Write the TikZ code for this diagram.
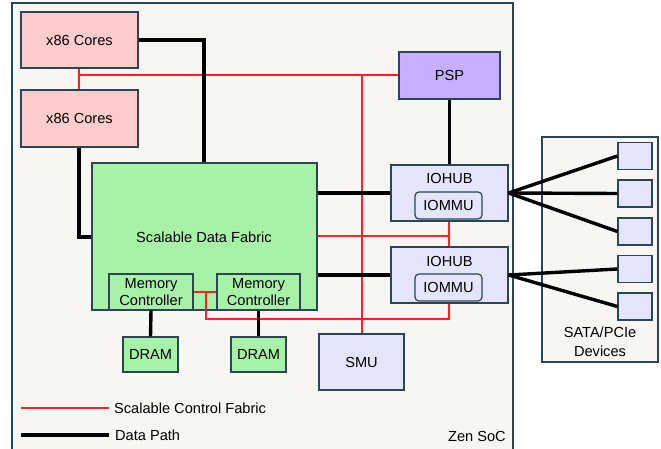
\documentclass[tikz,border=0pt]{standalone}
\usepackage{fontspec}
\setmainfont{Liberation Sans}
\definecolor{bord}{HTML}{2B4555}
\definecolor{soc}{HTML}{F7F6F2}
\definecolor{pinkc}{HTML}{FFCCCC}
\definecolor{greenc}{HTML}{A8F2A8}
\definecolor{purc}{HTML}{C8AEFF}
\definecolor{lavc}{HTML}{E4E4FA}
\definecolor{redl}{HTML}{FF2020}
\begin{document}
\begin{tikzpicture}[x=1pt,y=-1pt,
  box/.style={draw=bord,line width=1.2pt,inner sep=0pt,font=\fontsize{14.6}{17}\selectfont},
  dpath/.style={line width=3.4pt,black},
  cpath/.style={line width=1.2pt,redl},
  lbl/.style={font=\fontsize{14.6}{17}\selectfont,inner sep=0pt}]
\useasboundingbox (0,0) rectangle (661,449);
% SoC box
\path[draw=bord,fill=soc,line width=1.2pt] (12,3) rectangle (513,452);
\node[box,fill=soc,minimum width=116pt,minimum height=225pt] (dev) at (600,249.5) {};
% nodes
\node[box,fill=pinkc,minimum width=117pt,minimum height=56pt] (c1) at (79.5,40) {x86 Cores};
\node[box,fill=pinkc,minimum width=117pt,minimum height=57pt] (c2) at (79.5,118.5) {x86 Cores};
\node[box,fill=purc,minimum width=101pt,minimum height=47pt] (psp) at (449.5,75.5) {PSP};
\node[box,fill=greenc,minimum width=225pt,minimum height=147pt] (sdf) at (204.5,236.5) {};
\node[lbl] (sdft) at (204,237) {Scalable Data Fabric};
\node[box,fill=greenc,minimum width=84pt,minimum height=36pt,align=center,font=\fontsize{14.6}{17.5}\selectfont] (mc1) at (151,292) {Memory\\Controller};
\node[box,fill=greenc,minimum width=83pt,minimum height=36pt,align=center,font=\fontsize{14.6}{17.5}\selectfont] (mc2) at (258.5,292) {Memory\\Controller};
\node[box,fill=greenc,minimum width=55pt,minimum height=35pt] (d1) at (150.5,354.5) {DRAM};
\node[box,fill=greenc,minimum width=55pt,minimum height=35pt] (d2) at (258.5,354.5) {DRAM};
\node[box,fill=lavc,minimum width=85pt,minimum height=56pt] (smu) at (361.5,362) {SMU};
\node[box,fill=lavc,minimum width=117pt,minimum height=56pt] (io1) at (449.5,193) {};
\node[lbl] (io1t) at (449.5,178) {IOHUB};
\node[box,fill=lavc,rounded corners=4pt,minimum width=67pt,minimum height=27pt] (mmu1) at (448.5,205.5) {IOMMU};
\node[box,fill=lavc,minimum width=117pt,minimum height=56pt] (io2) at (449.5,275) {};
\node[lbl] (io2t) at (449.5,261) {IOHUB};
\node[box,fill=lavc,rounded corners=4pt,minimum width=67pt,minimum height=27pt] (mmu2) at (448.5,287.5) {IOMMU};
% devices
\foreach \i/\y in {1/156,2/193.5,3/231.5,4/269,5/306.5}{
  \node[box,fill=lavc,minimum width=34pt,minimum height=27pt] (b\i) at (635,\y) {};
}
\node[lbl,align=center,font=\fontsize{14.6}{19}\selectfont] (devt) at (600,341.5) {SATA/PCIe\\Devices};
% control fabric (red)
\coordinate (r1) at (79,75);
\coordinate (r2) at (362,75);
\draw[cpath] (c1.south -| r1) -- (c2.north -| r1);
\draw[cpath] (r1) -- (psp.west |- r1);
\draw[cpath] (r2) -- (smu.north -| r2);
\coordinate (r3) at (449,236);
\draw[cpath] (sdf.east |- r3) -- (r3);
\draw[cpath] (io1.south -| r3) -- (io2.north -| r3);
\coordinate (r4) at (449,319);
\coordinate (r5) at (206,319);
\coordinate (r6) at (206,292);
\draw[cpath] (io2.south -| r4) -- (r4) -- (r5) -- (r6);
\draw[cpath] (mc1.east |- r6) -- (mc2.west |- r6);
% data path (black)
\coordinate (k1) at (204,40);
\draw[dpath] (c1.east) -- (k1) -- (sdf.north -| k1);
\coordinate (k2) at (79,237);
\draw[dpath] (c2.south -| k2) -- (k2) -- (sdf.west |- k2);
\draw[dpath] (sdf.east |- io1.west) -- (io1.west);
\draw[dpath] (sdf.east |- io2.west) -- (io2.west);
\draw[dpath] (psp.south) -- (io1.north);
\draw[dpath] (mc1.south) -- (d1.north);
\draw[dpath] (mc2.south) -- (d2.north);
\foreach \i in {1,2,3}{\draw[dpath] (io1.east) -- (b\i.west);}
\foreach \i in {4,5}{\draw[dpath] (io2.east) -- (b\i.west);}
% legend
\coordinate (l1a) at (21,408);
\coordinate (l1b) at (109,408);
\draw[cpath] (l1a) -- (l1b);
\node[lbl,anchor=west] (lt1) at (114,408) {Scalable Control Fabric};
\coordinate (l2a) at (21,435);
\coordinate (l2b) at (109,435);
\draw[dpath] (l2a) -- (l2b);
\node[lbl,anchor=west] (lt2) at (115,435) {Data Path};
\node[lbl,anchor=east] (zen) at (506,436) {Zen SoC};
\end{tikzpicture}
\end{document}
